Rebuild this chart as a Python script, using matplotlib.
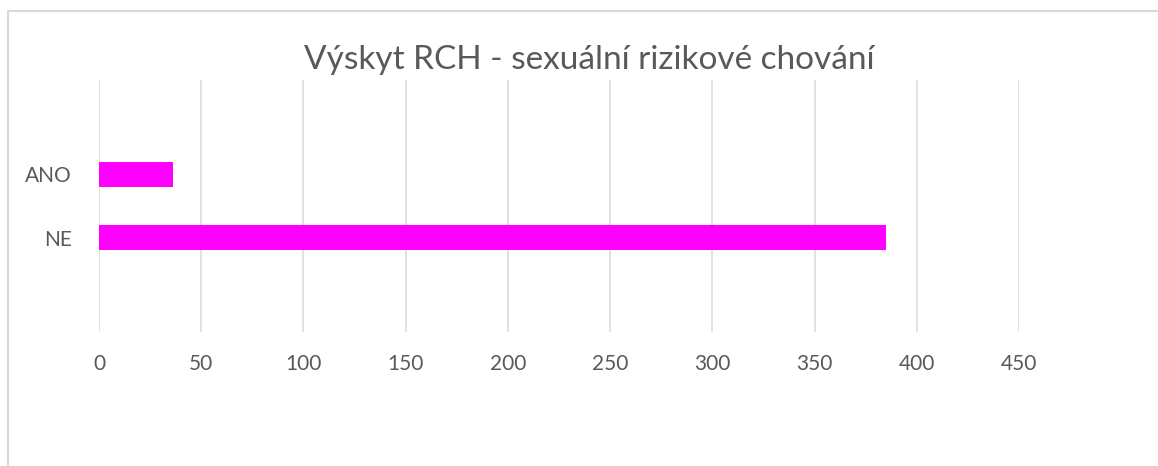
import matplotlib.pyplot as plt
from matplotlib.patches import Rectangle

# data (bottom to top, like Excel draws a bar chart)
categories = ["NE", "ANO"]
values = [385, 36]
positions = [1, 2]          # 4 category slots, outer two are empty
x_ticks = [0, 50, 100, 150, 200, 250, 300, 350, 400, 450]

plt.rcParams['font.family'] = ['Lato', 'DejaVu Sans']

fig = plt.figure(figsize=(11.58, 4.66), dpi=100)

# light grey chart frame (right and bottom edges cut off)
fig.patches.append(Rectangle((8 / 1158, -0.1), 1.2, 1.1 - 11 / 466,
                             transform=fig.transFigure, fill=False,
                             edgecolor='#D9D9D9', linewidth=1.5))

ax = fig.add_axes([99 / 1158, (466 - 332) / 466, 920 / 1158, 252 / 466])

ax.barh(positions, values, height=0.4, color='#FF00FF', zorder=3)

ax.set_xlim(0, 450)
ax.set_ylim(-0.5, 3.5)
ax.set_xticks(x_ticks)
ax.set_yticks(positions)
ax.set_yticklabels(categories)

ax.grid(axis='x', color='#D9D9D9', linewidth=1.1, zorder=0)
for s in ax.spines.values():
    s.set_visible(False)
ax.tick_params(axis='both', length=0, labelsize=15, colors='#595959')
ax.tick_params(axis='x', pad=16)
ax.tick_params(axis='y', pad=19.5)

fig.text(589 / 1158, 1 - 60 / 466, "Výskyt RCH - sexuální rizikové chování",
         ha='center', va='center', fontsize=24, color='#595959')

fig.savefig("out.png", dpi=100)
